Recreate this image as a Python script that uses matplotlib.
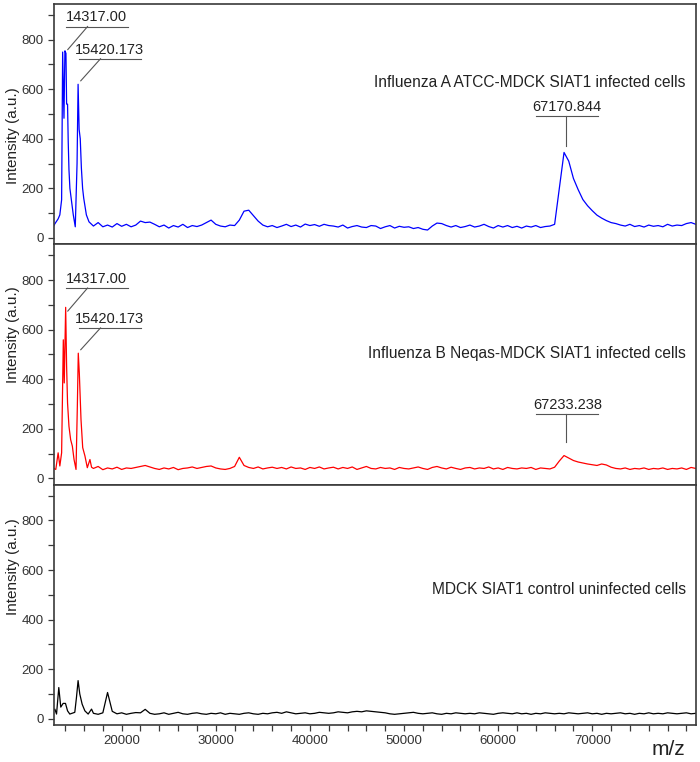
import numpy as np
import matplotlib
matplotlib.use('Agg')
import matplotlib.pyplot as plt
from matplotlib.ticker import MultipleLocator

plt.rcParams['font.family'] = ['Liberation Sans', 'DejaVu Sans']

# m/z grid shared by the baseline part of every spectrum (17000 .. 81000, step 500)
grid_mz = list(range(17000, 81001, 500))

# Influenza A ATCC-MDCK SIAT1 infected cells
flu_a_peak_mz = [12800, 12900, 13250, 13430, 13620, 13730, 13870, 13970, 14080, 14150,
                 14250, 14320, 14400, 14500, 14680, 14860, 15070, 15260, 15370, 15480,
                 15600, 15720, 15850, 15970, 16250, 16530, 16800]
flu_a_peak_int = [50, 57, 77, 93, 154, 750, 483, 755, 745, 540,
                  540, 390, 276, 200, 146, 93, 45, 300, 620, 438,
                  400, 282, 200, 160, 93, 65, 55]
flu_a_grid_int = [48, 62, 45, 52, 44, 58, 47, 55, 45, 52,
                  68, 62, 64, 55, 45, 52, 40, 50, 44, 55,
                  42, 50, 46, 52, 62, 72, 55, 48, 45, 52,
                  50, 72, 108, 112, 90, 68, 52, 45, 50, 42,
                  48, 55, 46, 52, 44, 56, 50, 54, 47, 55,
                  50, 48, 44, 52, 40, 46, 50, 44, 42, 50,
                  48, 38, 45, 50, 40, 47, 43, 45, 38, 42,
                  35, 32, 48, 60, 58, 50, 44, 50, 42, 46,
                  52, 44, 48, 55, 46, 40, 50, 44, 50, 42,
                  47, 40, 48, 44, 50, 42, 46, 48, 55, 200,
                  345, 310, 240, 195, 155, 130, 110, 92, 80, 70,
                  62, 58, 52, 48, 55, 46, 50, 44, 52, 47,
                  50, 45, 55, 48, 52, 50, 58, 62, 55]

# Influenza B Neqas-MDCK SIAT1 infected cells
flu_b_peak_mz = [12800, 13000, 13250, 13430, 13620, 13800, 13900, 14050, 14150, 14250,
                 14400, 14580, 14760, 14940, 15150, 15290, 15390, 15500, 15680, 15860,
                 16100, 16350, 16630, 16800]
flu_b_peak_int = [40, 36, 103, 50, 103, 559, 385, 690, 452, 304,
                  210, 156, 130, 76, 36, 290, 505, 425, 237, 124,
                  90, 43, 76, 45]
flu_b_grid_int = [40, 48, 35, 42, 38, 45, 36, 42, 40, 44,
                  48, 52, 46, 40, 36, 42, 38, 44, 35, 40,
                  42, 46, 40, 44, 48, 50, 42, 38, 36, 40,
                  48, 85, 52, 44, 40, 46, 38, 42, 45, 40,
                  44, 38, 46, 40, 42, 36, 44, 40, 46, 38,
                  42, 45, 38, 44, 40, 46, 36, 42, 48, 40,
                  38, 44, 40, 42, 36, 44, 40, 38, 42, 46,
                  40, 36, 44, 48, 42, 38, 45, 40, 36, 42,
                  44, 38, 42, 40, 46, 38, 42, 36, 44, 40,
                  38, 42, 40, 44, 36, 42, 40, 38, 45, 70,
                  92, 82, 72, 66, 62, 58, 55, 52, 58, 54,
                  45, 40, 38, 42, 36, 40, 38, 42, 36, 40,
                  38, 42, 36, 40, 38, 42, 36, 44, 40]

# MDCK SIAT1 control uninfected cells
ctrl_peak_mz = [12800, 12900, 13080, 13320, 13530, 13780, 14030, 14250, 14490, 15020,
                15200, 15370, 15550, 15800, 16090, 16440, 16800]
ctrl_peak_int = [35, 39, 19, 126, 47, 62, 62, 32, 19, 26,
                 87, 154, 100, 59, 32, 19, 39]
ctrl_grid_int = [22, 18, 24, 106, 30, 20, 24, 18, 22, 25,
                 24, 38, 22, 18, 20, 24, 18, 22, 26, 20,
                 18, 22, 24, 20, 18, 22, 20, 24, 18, 22,
                 20, 18, 22, 24, 20, 18, 22, 20, 24, 26,
                 22, 28, 24, 20, 22, 24, 20, 22, 26, 24,
                 22, 24, 28, 26, 24, 28, 30, 28, 32, 30,
                 28, 26, 24, 20, 18, 20, 22, 24, 26, 22,
                 20, 22, 24, 20, 18, 22, 20, 24, 22, 20,
                 22, 20, 24, 22, 20, 18, 22, 24, 22, 20,
                 24, 20, 22, 18, 22, 20, 24, 22, 20, 22,
                 20, 24, 22, 20, 22, 24, 20, 22, 18, 22,
                 20, 22, 24, 20, 22, 18, 22, 20, 24, 20,
                 22, 20, 24, 22, 20, 22, 24, 20, 22]

titles = ['Influenza A ATCC-MDCK SIAT1 infected cells',
          'Influenza B Neqas-MDCK SIAT1 infected cells',
          'MDCK SIAT1 control uninfected cells']
colors = ['#0000ff', '#ff0000', '#000000']
x_labels = [20000, 30000, 40000, 50000, 60000, 70000]

# labelled peaks per panel: (label, peak m/z, top of peak, height of label bar)
labels_a = [('14317.00', 14275, 760, 853), ('15420.173', 15653, 634, 723),
            ('67170.844', 67170, 370, 491)]
labels_b = [('14317.00', 14275, 675, 768), ('15420.173', 15653, 519, 607),
            ('67233.238', 67233, 145, 261)]

edge = '#3a3a3a'
tick_col = '#333333'


def draw_label(ax, text, peak_x, peak_y, bar_y):
    if peak_x > 60000:
        x0, x1 = peak_x - 3160, peak_x + 3410
        ax.plot([peak_x, peak_x], [peak_y, bar_y], color='#555555', lw=0.8)
    else:
        x0, x1 = peak_x - 220, peak_x + 6360
        ax.plot([peak_x, peak_x + 2100], [peak_y, bar_y], color='#555555', lw=0.8)
    ax.plot([x0, x1], [bar_y, bar_y], color='#555555', lw=0.8)
    ax.annotate(text, ((x0 + x1) / 2, bar_y), xytext=(0, 1.5), textcoords='offset points',
                ha='center', va='bottom', fontsize=10.5, color='#222222')


def draw_panel(ax, peak_mz, peak_int, grid_int, color, title, title_y, ylab_y, labels):
    mz = np.array(peak_mz + grid_mz)
    intensity = np.array(peak_int + grid_int)
    ax.plot(mz, intensity, color=color, lw=0.9)
    ax.set_xlim(12800, 81000)
    ax.set_ylim(-25, 945)
    ax.set_xticks(x_labels)
    ax.xaxis.set_minor_locator(MultipleLocator(2000))
    ax.yaxis.set_major_locator(MultipleLocator(200))
    ax.yaxis.set_minor_locator(MultipleLocator(100))
    ax.tick_params(which='both', direction='out', length=4, width=0.9,
                   color=edge, labelcolor=tick_col, labelsize=9.5)
    for s in ax.spines.values():
        s.set_color(edge)
        s.set_linewidth(1.2)
    ax.set_ylabel('Intensity (a.u.)', fontsize=11, color='#222222')
    ax.yaxis.set_label_coords(-0.053, ylab_y)
    ax.text(0.984, title_y, title, transform=ax.transAxes,
            ha='right', va='center', fontsize=11.2, color='#222222')
    for lab in labels:
        draw_label(ax, *lab)


fig = plt.figure(figsize=(7, 7.62), dpi=100)
h = 0.3155
ax_a = fig.add_axes([0.077, 0.0486 + 2 * h, 0.917, h])
ax_b = fig.add_axes([0.077, 0.0486 + h, 0.917, h])
ax_c = fig.add_axes([0.077, 0.0486, 0.917, h])

draw_panel(ax_a, flu_a_peak_mz, flu_a_peak_int, flu_a_grid_int, colors[0], titles[0], 0.672, 0.45, labels_a)
draw_panel(ax_b, flu_b_peak_mz, flu_b_peak_int, flu_b_grid_int, colors[1], titles[1], 0.547, 0.625, labels_b)
draw_panel(ax_c, ctrl_peak_mz, ctrl_peak_int, ctrl_grid_int, colors[2], titles[2], 0.5625, 0.66, [])

for ax in (ax_a, ax_b):
    ax.tick_params(axis='x', which='both', bottom=False, labelbottom=False)

fig.text(0.955, 0.016, 'm/z', fontsize=15, color='#222222', ha='center', va='center')

fig.savefig('out.png', dpi=100)
